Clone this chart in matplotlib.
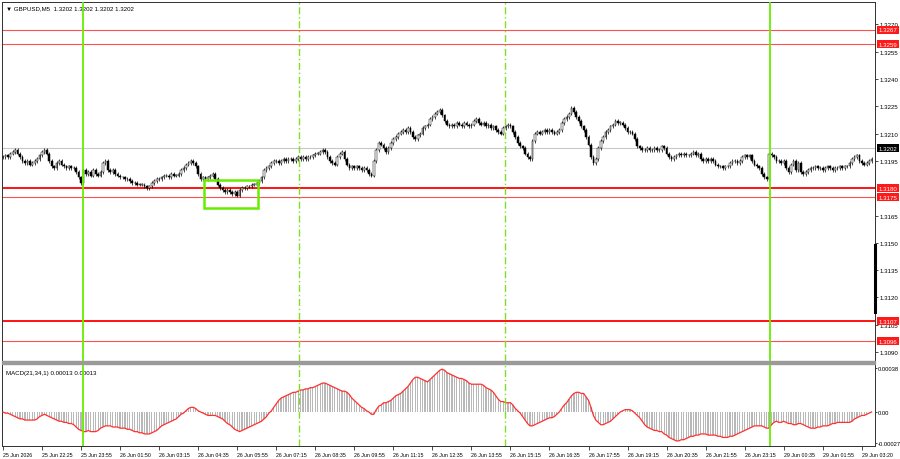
import numpy as np
import matplotlib.pyplot as plt
import matplotlib.transforms as mtransforms
from matplotlib.patches import Rectangle

plt.rcParams['font.family'] = ['Liberation Sans', 'DejaVu Sans']

# GBPUSD M5 closes, in pips above 1.3098
close_pips = [
    99, 100, 99, 101, 102, 103, 101, 99, 97, 96,
    97, 95, 96, 97, 98, 100, 102, 103, 101, 97,
    94, 93, 96, 97, 95, 94, 93, 94, 93, 93,
    91, 88, 85, 92, 90, 91, 89, 92, 90, 89,
    91, 96, 97, 92, 91, 92, 90, 89, 88, 88,
    87, 87, 86, 85, 85, 84, 84, 84, 83, 82,
    83, 85, 86, 87, 87, 88, 89, 89, 88, 90,
    89, 89, 90, 92, 93, 95, 96, 97, 96, 94,
    90, 87, 88, 87, 88, 89, 90, 87, 84, 82,
    81, 80, 81, 80, 79, 80, 78, 81, 82, 82,
    83, 83, 84, 84, 85, 86, 88, 92, 93, 94,
    96, 97, 97, 96, 97, 98, 97, 98, 98, 97,
    98, 99, 98, 99, 98, 99, 99, 100, 101, 101,
    102, 103, 102, 99, 97, 96, 95, 99, 101, 102,
    98, 95, 93, 94, 93, 94, 93, 92, 93, 92,
    90, 89, 97, 103, 107, 106, 104, 102, 104, 107,
    109, 110, 112, 113, 114, 113, 115, 113, 110, 109,
    111, 112, 115, 116, 117, 120, 121, 123, 124, 125,
    122, 119, 117, 116, 117, 116, 118, 117, 116, 118,
    117, 116, 117, 119, 120, 118, 117, 118, 116, 117,
    115, 116, 114, 113, 112, 115, 116, 117, 116, 113,
    110, 107, 105, 104, 101, 99, 98, 108, 112, 113,
    112, 113, 114, 113, 114, 113, 112, 113, 114, 118,
    120, 121, 123, 126, 124, 121, 119, 116, 114, 110,
    106, 99, 96, 98, 104, 108, 110, 113, 114, 116,
    117, 119, 118, 118, 117, 115, 113, 113, 112, 109,
    105, 104, 103, 103, 104, 103, 103, 104, 103, 103,
    105, 104, 101, 99, 98, 99, 100, 101, 100, 101,
    100, 100, 101, 102, 100, 101, 98, 97, 98, 97,
    98, 97, 95, 94, 94, 93, 94, 94, 96, 97,
    97, 96, 97, 99, 100, 99, 100, 97, 95, 94,
    93, 90, 88, 87, 101, 100, 99, 97, 97, 96,
    97, 93, 91, 95, 97, 92, 96, 91, 90, 91,
    92, 93, 93, 94, 93, 93, 92, 93, 94, 93,
    92, 93, 93, 94, 93, 94, 94, 96, 98, 99,
    100, 97, 96, 95, 96, 97, 98,
]

# MACD(21,34,1) main value, in points (1e-5)
macd_pts = [
    0, -1, -1, -2, -3, -4, -5, -6, -6, -7,
    -7, -7, -7, -7, -6, -4, -3, -2, -3, -4,
    -5, -6, -7, -8, -8, -9, -9, -10, -10, -11,
    -13, -15, -16, -17, -17, -16, -17, -17, -17, -16,
    -14, -13, -12, -12, -12, -13, -13, -13, -14, -14,
    -14, -15, -15, -16, -17, -17, -18, -18, -19, -19,
    -19, -18, -17, -16, -14, -12, -11, -10, -9, -8,
    -7, -6, -4, -2, -1, 1, 3, 4, 4, 3,
    1, 0, -1, -2, -3, -3, -3, -3, -4, -5,
    -6, -8, -10, -11, -13, -15, -16, -17, -16, -15,
    -14, -13, -12, -11, -10, -9, -8, -6, -4, -1,
    1, 4, 7, 10, 12, 13, 14, 15, 16, 17,
    17, 18, 19, 19, 20, 20, 21, 21, 22, 23,
    24, 25, 25, 24, 23, 22, 21, 20, 19, 18,
    18, 17, 15, 12, 10, 8, 6, 4, 3, 1,
    0, -2, -2, 2, 5, 6, 8, 8, 9, 10,
    12, 14, 15, 16, 18, 20, 22, 25, 28, 30,
    30, 29, 28, 27, 26, 28, 30, 32, 34, 36,
    37, 36, 34, 33, 32, 31, 30, 29, 29, 28,
    27, 25, 24, 24, 24, 24, 24, 23, 21, 20,
    19, 17, 14, 11, 9, 9, 8, 8, 8, 6,
    3, 1, -1, -4, -7, -10, -12, -12, -11, -10,
    -9, -8, -7, -6, -5, -5, -4, -2, 0, 3,
    6, 8, 11, 14, 16, 17, 17, 16, 16, 13,
    10, 4, -3, -7, -9, -11, -11, -10, -9, -8,
    -6, -4, -2, 0, 1, 2, 2, 2, 1, -1,
    -3, -5, -8, -11, -13, -14, -15, -16, -16, -17,
    -17, -19, -20, -22, -23, -24, -25, -25, -24, -24,
    -23, -22, -21, -21, -20, -20, -19, -19, -19, -20,
    -20, -20, -20, -21, -21, -22, -22, -22, -21, -21,
    -20, -19, -18, -17, -16, -15, -14, -13, -12, -12,
    -12, -12, -13, -14, -14, -11, -9, -8, -9, -9,
    -8, -9, -10, -10, -11, -11, -10, -10, -11, -12,
    -13, -14, -14, -14, -13, -13, -12, -12, -12, -11,
    -10, -10, -9, -9, -9, -9, -9, -9, -8, -6,
    -5, -4, -3, -3, -2, -1, 0,
]

time_labels = ["25 Jun 2026", "25 Jun 22:25", "25 Jun 23:55", "26 Jun 01:50",
               "26 Jun 03:15", "26 Jun 04:35", "26 Jun 05:55", "26 Jun 07:15",
               "26 Jun 08:35", "26 Jun 09:55", "26 Jun 11:15", "26 Jun 12:35",
               "26 Jun 13:55", "26 Jun 15:15", "26 Jun 16:35", "26 Jun 17:55",
               "26 Jun 19:15", "26 Jun 20:35", "26 Jun 21:55", "26 Jun 23:15",
               "29 Jun 00:35", "29 Jun 01:55", "29 Jun 03:20"]
price_ticks = [1.3270, 1.3255, 1.3240, 1.3225, 1.3210, 1.3195,
               1.3165, 1.3150, 1.3135, 1.3120, 1.3105, 1.3090]
levels = [1.3267, 1.3259, 1.3180, 1.3175, 1.3107, 1.3096]
strong_levels = [1.3180, 1.3107]
bid = 1.3202
solid_marks = [32.8, 314.3]
dashdot_marks = [121.3, 205.7]
box_bars = (82.3, 104.5)
box_prices = (1.31689, 1.31843)

closes = 1.3098 + np.array(close_pips) / 10000
opens = np.r_[closes[0], closes[:-1]]
macd = np.array(macd_pts) * 1e-5
x = np.arange(len(closes))

fig = plt.figure(figsize=(9, 4.6), dpi=100)
ax = fig.add_axes([0.0022, 0.2130, 0.9700, 0.7804])
ax2 = fig.add_axes([0.0022, 0.0283, 0.9700, 0.1783])

green = '#66ee00'
fs = 4.4

# candles
wick = 0.0001
lo = np.minimum(opens, closes)
hi = np.maximum(opens, closes)
ax.vlines(x, lo - wick, hi + wick, color='black', lw=0.5, zorder=3)
up = closes >= opens
body = np.maximum(hi - lo, 0.000015)
ax.bar(x[up], body[up], bottom=lo[up], width=0.7, color='white',
       edgecolor='black', lw=0.35, zorder=4)
ax.bar(x[~up], body[~up], bottom=lo[~up], width=0.7, color='black',
       edgecolor='black', lw=0.35, zorder=4)

ax.axhline(bid, color='#c8c8c8', lw=0.8, zorder=1)
for lv in levels:
    if lv in strong_levels:
        ax.axhline(lv, color='#ff0000', lw=1.3, zorder=2)
    else:
        ax.axhline(lv, color='#ff5050', lw=0.8, zorder=2)

ax.add_patch(Rectangle((box_bars[0], box_prices[0]), box_bars[1] - box_bars[0],
                       box_prices[1] - box_prices[0], fill=False,
                       edgecolor=green, lw=1.8, zorder=5))

for a in (ax, ax2):
    for m in solid_marks:
        a.axvline(m, color=green, lw=1.3, zorder=6)
    for m in dashdot_marks:
        a.axvline(m, color='#7ee020', lw=1.0, ls=(0, (5, 2, 1, 2)), zorder=6)

xmin, xmax = -0.4, 357.4
ax.set_xlim(xmin, xmax)
ax.set_ylim(1.30851, 1.32823)
ax.set_xticks([])
ax.yaxis.tick_right()
ax.set_yticks(price_ticks)
ax.set_yticklabels([f"{p:.4f}" for p in price_ticks], fontsize=fs)
ax.tick_params(axis='y', length=2, width=0.5, pad=1.2)

trans = mtransforms.blended_transform_factory(ax.transAxes, ax.transData)
for lv in levels:
    ax.text(1.004, lv, f"{lv:.4f}", transform=trans, fontsize=fs, color='white',
            ha='left', va='center', zorder=10, clip_on=False,
            bbox=dict(boxstyle='square,pad=0.25', fc='#ff1a1a', ec='none'))
ax.text(1.004, bid, f"{bid:.4f}", transform=trans, fontsize=fs, color='white',
        ha='left', va='center', zorder=10, clip_on=False,
        bbox=dict(boxstyle='square,pad=0.25', fc='black', ec='none'))
ax.plot([1, 1], [1.3112, 1.3149], transform=trans, color='black', lw=2.2,
        clip_on=False, zorder=10)

ax.text(0.005, 0.992, "\u25bc GBPUSD,M5  1.3202 1.3202 1.3202 1.3202",
        transform=ax.transAxes, fontsize=4.4, va='top', ha='left')

# MACD panel
ax2.bar(x, macd, width=0.5, color='#b8b8b8', lw=0, zorder=2)
ax2.plot(x, macd, color='#ff3030', lw=0.9, zorder=3)
ax2.set_xlim(xmin, xmax)
ax2.set_ylim(-0.000294, 0.000415)
ax2.yaxis.tick_right()
ax2.set_yticks([0.00038, 0.0, -0.00027])
ax2.set_yticklabels(["0.00038", "0.00", "-0.00027"], fontsize=4.2)
ax2.tick_params(axis='y', length=1.5, width=0.5, pad=0.5)
ax2.set_xticks(np.arange(0, 16 * len(time_labels), 16))
ax2.set_xticklabels(time_labels, fontsize=3.8, ha='left')
ax2.tick_params(axis='x', length=3, width=0.5, pad=1)
ax2.text(0.005, 0.93, "MACD(21,34,1) 0.00013 0.00013", transform=ax2.transAxes,
         fontsize=4.4, va='top', ha='left')

for a in (ax, ax2):
    for s in a.spines.values():
        s.set_linewidth(0.7)
        s.set_color('#303030')

# grey separator between the two panels
fig.patches.append(Rectangle((0.0022, 0.2065), 0.97, 0.0065, transform=fig.transFigure,
                             color='#9a9a9a', zorder=0))

fig.savefig("out.png", dpi=100)
